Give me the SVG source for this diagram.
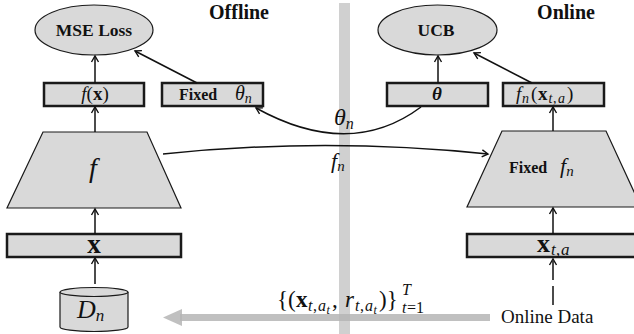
<svg xmlns="http://www.w3.org/2000/svg" width="634" height="334" viewBox="0 0 634 334">
<style>
text{font-family:"Liberation Serif","Times New Roman",serif;fill:#111}
.b{font-weight:bold}
.i{font-style:italic}
.box{fill:#d9d9d9;stroke:#1a1a1a;stroke-width:2.5}
.shape{fill:#d9d9d9;stroke:#1a1a1a;stroke-width:1.2}
.arr{fill:none;stroke:#111;stroke-width:1.5;marker-end:url(#ah)}
</style>
<defs>
<marker id="ah" viewBox="-8 -5 10 10" refX="0" refY="0" markerWidth="10" markerHeight="10" markerUnits="userSpaceOnUse" orient="auto">
<path d="M-6,-3.5 L0,0 L-6,3.5" fill="none" stroke="#111" stroke-width="1.4"/>
</marker>
</defs>
<rect width="634" height="334" fill="#fff"/>
<g id="divider">
<rect x="339" y="3" width="11" height="331" fill="#d0d0d0"/>
</g>
<g id="data-flow">
<rect x="180" y="314" width="310" height="7" fill="#b5b5b5" fill-opacity="0.85"/>
<path d="M163,317.5 L182,309 L182,326 Z" fill="#b5b5b5" fill-opacity="0.85"/>
</g>
<g id="headers">
<text x="239" y="19" font-size="20" class="b" text-anchor="middle">Offline</text>
<text x="566" y="19" font-size="20" class="b" text-anchor="middle">Online</text>
</g>
<g id="mse">
<ellipse cx="94" cy="30" rx="59" ry="25" class="shape" stroke-width="1"/>
<text x="94" y="36" font-size="17.5" class="b" text-anchor="middle">MSE Loss</text>
</g>
<g id="ucb">
<ellipse cx="437.5" cy="30" rx="59.5" ry="25" class="shape" stroke-width="1"/>
<text x="436" y="36" font-size="17.5" class="b" text-anchor="middle">UCB</text>
</g>
<g id="fx">
<rect x="44" y="83" width="100" height="23" class="box"/>
<text x="95" y="100" font-size="19" text-anchor="middle"><tspan class="i">f</tspan>(<tspan class="b">x</tspan>)</text>
</g>
<g id="fixed-theta">
<rect x="162" y="83" width="101" height="23" class="box"/>
<text x="179" y="100" font-size="16" class="b">Fixed</text>
<text x="235" y="100" font-size="20"><tspan class="i">θ</tspan><tspan class="i" font-size="14" dy="3">n</tspan></text>
</g>
<g id="theta">
<rect x="387" y="83" width="101" height="23" class="box"/>
<text x="437" y="100" font-size="19" class="b i" text-anchor="middle">θ</text>
</g>
<g id="fn-x">
<rect x="503" y="83" width="101" height="23" class="box"/>
<text y="100" font-size="19"><tspan class="i" x="516">f</tspan><tspan class="i" x="522" y="103" font-size="14">n</tspan><tspan x="531" y="100">(</tspan><tspan class="b" x="538">x</tspan><tspan class="i" x="548.5" y="103" font-size="14">t</tspan><tspan x="553" font-size="14">,</tspan><tspan class="i" x="558" font-size="14">a</tspan><tspan x="567" y="100">)</tspan></text>
</g>
<g id="f-net">
<path d="M43,132 L147,132 L181,208 L7,208 Z" class="shape"/>
<text x="93" y="177" font-size="28" class="i" text-anchor="middle">f</text>
</g>
<g id="fixed-fn-net">
<path d="M502,131 L606,131 L641,207 L467,207 Z" class="shape"/>
<text x="509" y="173" font-size="16" class="b">Fixed</text>
<text x="560" y="173" font-size="22"><tspan class="i">f</tspan><tspan class="i" font-size="15" dy="3">n</tspan></text>
</g>
<g id="x-in">
<rect x="7" y="234" width="174" height="23" class="box"/>
<text x="94" y="253" font-size="27" class="b" text-anchor="middle">x</text>
</g>
<g id="xta-in">
<rect x="467" y="234" width="180" height="23" class="box"/>
<text y="252" font-size="26"><tspan class="b" x="537">x</tspan><tspan class="i" x="551" y="255" font-size="17">t</tspan><tspan x="556" font-size="17">,</tspan><tspan class="i" x="561" font-size="17">a</tspan></text>
</g>
<g id="dn">
<path d="M60,292 L60,327 A34,4.5 0 0 0 128,327 L128,292" class="shape"/>
<ellipse cx="94" cy="292" rx="34" ry="4.5" class="shape"/>
<text x="77" y="318" font-size="26"><tspan class="i">D</tspan><tspan class="i" font-size="17" dy="3">n</tspan></text>
</g>
<g id="online-data">
<text x="501" y="323" font-size="19">Online Data</text>
</g>
<g id="formula">
<text y="307" font-size="23"><tspan x="277">{(</tspan><tspan class="b" x="296">x</tspan><tspan class="i" x="308" y="311" font-size="16">t</tspan><tspan x="313" font-size="16">,</tspan><tspan class="i" x="318" font-size="16">a</tspan><tspan class="i" x="326.5" y="314" font-size="12">t</tspan><tspan x="332" y="307">,</tspan><tspan class="i" x="345">r</tspan><tspan class="i" x="355" y="311" font-size="16">t</tspan><tspan x="360" font-size="16">,</tspan><tspan class="i" x="365" font-size="16">a</tspan><tspan class="i" x="373.5" y="314" font-size="12">t</tspan><tspan x="379" y="307">)}</tspan><tspan class="i" x="402" y="295" font-size="16">T</tspan><tspan class="i" x="402" y="313" font-size="16">t</tspan><tspan x="407" font-size="16">=1</tspan></text>
</g>
<g id="labels">
<text x="334" y="125" font-size="24"><tspan class="i">θ</tspan><tspan class="i" font-size="16" dy="4">n</tspan></text>
<text x="331" y="168" font-size="22"><tspan class="i">f</tspan><tspan class="i" font-size="15" dy="3">n</tspan></text>
</g>
<g id="connectors">
<line x1="95" y1="83" x2="95" y2="56" class="arr"/>
<line x1="197" y1="83" x2="135" y2="51" class="arr"/>
<line x1="95" y1="132" x2="95" y2="107" class="arr"/>
<line x1="95" y1="234" x2="95" y2="209" class="arr"/>
<line x1="95" y1="284" x2="95" y2="258" class="arr"/>
<line x1="438" y1="83" x2="438" y2="56" class="arr"/>
<line x1="532" y1="83" x2="474" y2="53" class="arr"/>
<line x1="553" y1="131" x2="553" y2="107" class="arr"/>
<line x1="553" y1="234" x2="553" y2="208" class="arr"/>
<line x1="553" y1="305" x2="553" y2="259" class="arr" stroke-dasharray="19,6"/>
<path d="M421,107 Q350,160 256,108" class="arr"/>
<path d="M163,154 Q325,137 488,154" class="arr"/>
</g>
</svg>
